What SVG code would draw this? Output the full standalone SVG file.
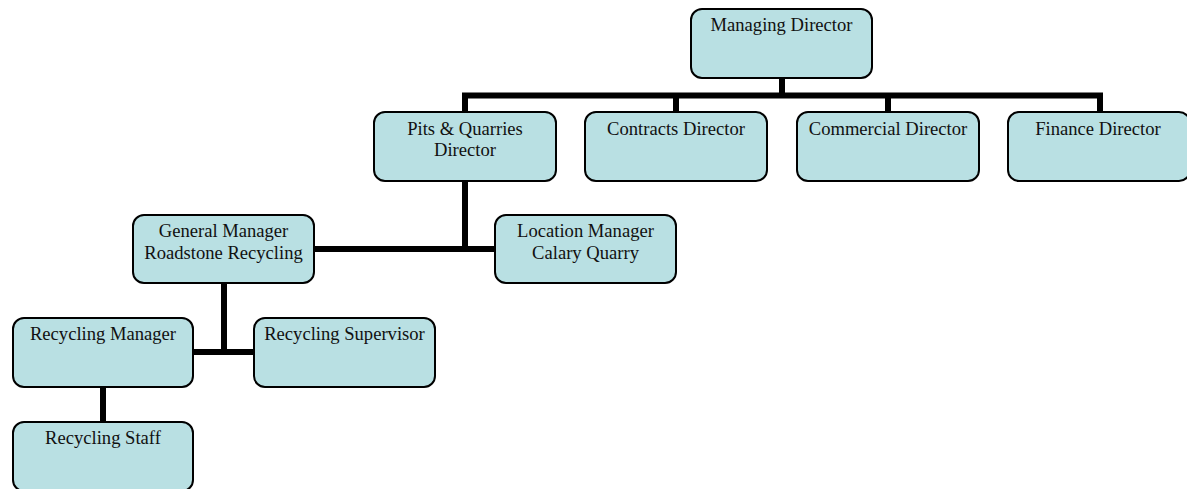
<svg xmlns="http://www.w3.org/2000/svg" width="1187" height="489" viewBox="0 0 1187 489">
<style>
.box{fill:#B9E0E3;stroke:#000;stroke-width:2}
.lbl{font-family:"Liberation Serif","Times New Roman",serif;font-size:18.6px;fill:#111;text-anchor:middle}
.con{stroke:#000;stroke-width:6;fill:none}
</style>
<rect width="1187" height="489" fill="#fff"/>
<g id="connectors">
<line class="con" x1="782" y1="78" x2="782" y2="95.5"/>
<polyline class="con" points="465,112 465,95.5 1100,95.5 1100,112"/>
<line class="con" x1="676" y1="95.5" x2="676" y2="112"/>
<line class="con" x1="888" y1="95.5" x2="888" y2="112"/>
<line class="con" x1="465" y1="181" x2="465" y2="249"/>
<line class="con" x1="314" y1="249" x2="495" y2="249"/>
<line class="con" x1="224" y1="283" x2="224" y2="352"/>
<line class="con" x1="193" y1="352" x2="254" y2="352"/>
<line class="con" x1="103" y1="387" x2="103" y2="422"/>
</g>
<g id="managing-director"><rect class="box" x="691" y="9" width="181" height="69" rx="11"/><text class="lbl" x="781.5" y="31">Managing Director</text></g>
<g id="pits-quarries"><rect class="box" x="374" y="112" width="182" height="69" rx="11"/><text class="lbl" x="465" y="135">Pits &amp; Quarries</text><text class="lbl" x="465" y="156">Director</text></g>
<g id="contracts"><rect class="box" x="585" y="112" width="182" height="69" rx="11"/><text class="lbl" x="676" y="135">Contracts Director</text></g>
<g id="commercial"><rect class="box" x="797" y="112" width="182" height="69" rx="11"/><text class="lbl" x="888" y="135">Commercial Director</text></g>
<g id="finance"><rect class="box" x="1008" y="112" width="182" height="69" rx="11"/><text class="lbl" x="1098" y="135">Finance Director</text></g>
<g id="general-manager"><rect class="box" x="133" y="215" width="181" height="68" rx="11"/><text class="lbl" x="223.5" y="237">General Manager</text><text class="lbl" x="223.5" y="259">Roadstone Recycling</text></g>
<g id="location-manager"><rect class="box" x="495" y="215" width="181" height="68" rx="11"/><text class="lbl" x="585.5" y="237">Location Manager</text><text class="lbl" x="585.5" y="259">Calary Quarry</text></g>
<g id="recycling-manager"><rect class="box" x="13" y="318" width="180" height="69" rx="11"/><text class="lbl" x="103" y="340">Recycling Manager</text></g>
<g id="recycling-supervisor"><rect class="box" x="254" y="318" width="181" height="69" rx="11"/><text class="lbl" x="344.5" y="340">Recycling Supervisor</text></g>
<g id="recycling-staff"><rect class="box" x="13" y="422" width="180" height="69" rx="11"/><text class="lbl" x="103" y="444">Recycling Staff</text></g>
</svg>
